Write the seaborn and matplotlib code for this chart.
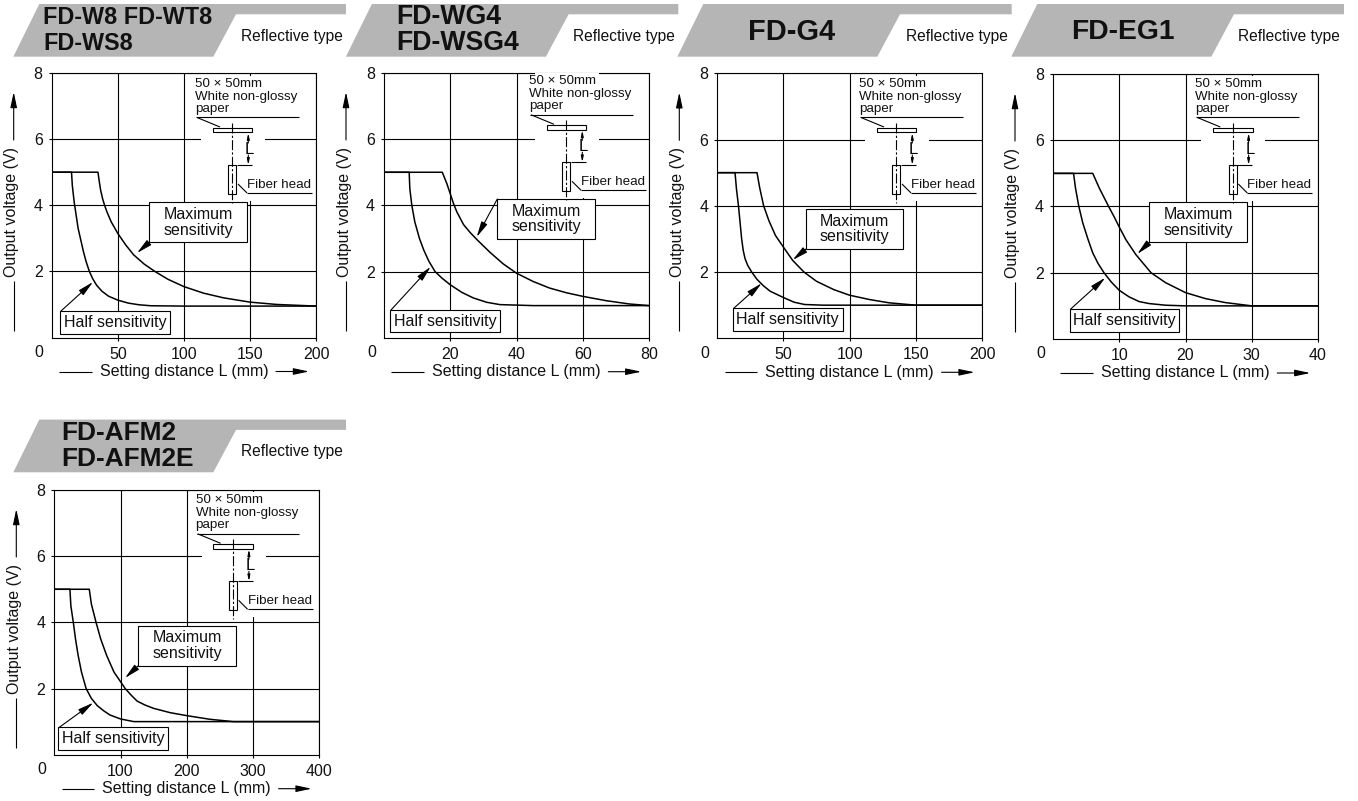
import pandas as pd
import seaborn as sns
import matplotlib
matplotlib.use('Agg')
import matplotlib.pyplot as plt
from matplotlib.patches import Polygon, Rectangle

sns.set_theme(style='white')
plt.rcParams['font.family'] = ['Liberation Sans', 'DejaVu Sans']

W, H = 1358, 801

w8_half_x = [0, 15, 15.6, 17, 18.5, 20, 22, 24, 26, 28.5, 31, 34, 38, 43, 50, 58, 66, 75, 100, 200]
w8_half_y = [5, 5, 4.6, 4.1, 3.7, 3.3, 2.95, 2.6, 2.3, 2.0, 1.78, 1.58, 1.4, 1.25, 1.13, 1.04, 0.99, 0.96, 0.95, 0.95]
w8_max_x = [0, 35, 36, 37, 38.5, 40, 42, 45, 50, 56, 62, 70, 78, 88, 100, 115, 130, 150, 170, 200]
w8_max_y = [5, 5, 4.72, 4.46, 4.2, 4.0, 3.78, 3.5, 3.15, 2.8, 2.5, 2.22, 2.0, 1.76, 1.54, 1.34, 1.2, 1.07, 1.0, 0.95]

wg4_half_x = [0, 7.6, 7.8, 8.4, 9.3, 10.7, 12, 13.5, 15.4, 17.5, 20, 23.5, 27, 31, 35, 45, 80]
wg4_half_y = [5, 5, 4.5, 4.0, 3.5, 3.0, 2.65, 2.32, 2.0, 1.8, 1.6, 1.37, 1.2, 1.07, 1.0, 0.97, 0.97]
wg4_max_x = [0, 17.6, 19, 20, 21, 22, 24, 26, 28, 32, 36, 40, 45, 50, 55, 60, 67, 74, 80]
wg4_max_y = [5, 5, 4.65, 4.35, 4.05, 3.8, 3.42, 3.18, 2.97, 2.58, 2.23, 1.95, 1.7, 1.5, 1.36, 1.25, 1.12, 1.02, 0.97]

g4_half_x = [0, 13.4, 14.5, 16, 17.2, 18.4, 19.6, 21, 23, 26, 30, 35, 40, 50, 58, 66, 80, 200]
g4_half_y = [5, 5, 4.5, 4.0, 3.5, 3.0, 2.65, 2.4, 2.2, 2.0, 1.78, 1.58, 1.42, 1.23, 1.09, 1.02, 1.0, 1.0]
g4_max_x = [0, 30, 32, 35, 39, 44, 50, 57, 65.5, 75, 88, 100, 115, 130, 150, 200]
g4_max_y = [5, 5, 4.55, 4.0, 3.55, 3.1, 2.75, 2.35, 2.0, 1.72, 1.47, 1.3, 1.17, 1.07, 1.0, 1.0]

eg1_half_x = [0, 3.1, 3.4, 3.9, 4.5, 5.3, 6, 6.8, 7.7, 8.8, 10, 11.5, 13, 14.5, 17, 20, 40]
eg1_half_y = [5, 5, 4.55, 4.0, 3.5, 3.0, 2.6, 2.28, 2.0, 1.72, 1.47, 1.27, 1.13, 1.07, 1.02, 1.0, 1.0]
eg1_max_x = [0, 6, 7, 8.4, 9.2, 10, 11, 12.5, 14.8, 17, 20, 23, 26, 30, 40]
eg1_max_y = [5, 5, 4.55, 4.0, 3.7, 3.38, 3.0, 2.55, 2.0, 1.7, 1.4, 1.22, 1.1, 1.0, 1.0]

afm_half_x = [0, 23.6, 25, 28.7, 32, 36, 41, 48, 56, 65, 75, 84, 100, 120, 400]
afm_half_y = [5, 5, 4.5, 4.0, 3.5, 3.0, 2.5, 2.0, 1.7, 1.48, 1.32, 1.2, 1.08, 1.0, 1.0]
afm_max_x = [0, 52.8, 56, 63, 70, 79, 90, 107, 116, 125, 137, 150, 175, 200, 235, 270, 400]
afm_max_y = [5, 5, 4.55, 4.0, 3.5, 3.0, 2.5, 2.0, 1.8, 1.62, 1.5, 1.4, 1.27, 1.18, 1.07, 1.0, 1.0]

titles = [['FD-W8 FD-WT8', 'FD-WS8'], ['FD-WG4', 'FD-WSG4'], ['FD-G4'], ['FD-EG1'], ['FD-AFM2', 'FD-AFM2E']]
title_size = [16.8, 19.2, 20.9, 20.3, 18.9]
x_ticks = [[50, 100, 150, 200], [20, 40, 60, 80], [50, 100, 150, 200], [10, 20, 30, 40], [100, 200, 300, 400]]
y_ticks = [2, 4, 6, 8]
half_curves = [(w8_half_x, w8_half_y), (wg4_half_x, wg4_half_y), (g4_half_x, g4_half_y), (eg1_half_x, eg1_half_y), (afm_half_x, afm_half_y)]
max_curves = [(w8_max_x, w8_max_y), (wg4_max_x, wg4_max_y), (g4_max_x, g4_max_y), (eg1_max_x, eg1_max_y), (afm_max_x, afm_max_y)]

# Положение в пикселях
frames = [(51.7, 316, 73, 337.5), (384, 649, 73, 337.7), (717.3, 982, 73.3, 338.3), (1053, 1318, 74, 339), (54.3, 319.3, 490, 754.7)]
header_dx = [0, 332.6, 664, 998, 0]
header_dy = [0, 0, 0, 0, 415.6]
title_pos = [(43, None), (396, None), (None, 791.7), (None, 1123), (61, None)]
type_x = [241, 573, 906, 1238, 241]
scheme_dx = [0, 334, 664, 1000.3, 0.6]
scheme_dy = [0, -2.7, 0, 0, 416.3]
max_boxes = [(149.3, 246.7, 202.3, 242.3), (497.3, 595, 199, 239.3), (806, 903.3, 209, 249), (1149.3, 1247.3, 202.3, 242.3), (138.3, 235.7, 625.7, 665.7)]
half_boxes = [(60, 170, 311, 334), (390, 500, 310, 332.3), (732.7, 842.7, 308.3, 331.3), (1069.7, 1179, 309, 331.7), (58.3, 167.7, 727.3, 750.3)]
max_tips = [(137, 253), (476.7, 237), (792.7, 260), (1137.3, 254), (125, 678)]
half_tips = [(93, 282), (430.7, 266.7), (761.7, 283.3), (1105.3, 277.7), (93.3, 702.7)]

FS = 11.5

fig = plt.figure(figsize=(W / 100, H / 100), dpi=100)
over = fig.add_axes([0, 0, 1, 1], zorder=5)
over.set_xlim(0, W)
over.set_ylim(H, 0)
over.axis('off')
over.patch.set_alpha(0)


def arrow(x0, y0, x1, y1, scale=11):
    over.annotate('', xy=(x1, y1), xytext=(x0, y0),
                  arrowprops=dict(arrowstyle='-|>,head_length=0.85,head_width=0.18', mutation_scale=scale,
                                  color='black', lw=0.8, shrinkA=0, shrinkB=0))


def seg(xs, ys, **kw):
    kw.setdefault('lw', 0.8)
    kw.setdefault('color', 'black')
    over.plot(xs, ys, solid_capstyle='butt', **kw)


def draw_header(i):
    dx, dy = header_dx[i], header_dy[i]
    right = [346, 678.3, 1011.7, 1344, 346][i]
    pts = [(39.3 + dx, 4 + dy), (right, 4 + dy), (right, 14.3 + dy), (236 + dx, 14.3 + dy),
           (213.3 + dx, 56.7 + dy), (13.3 + dx, 56.7 + dy)]
    over.add_patch(Polygon(pts, closed=True, fc='#b5b5b5', ec='none'))
    left, center = title_pos[i]
    size = title_size[i]
    if len(titles[i]) == 2:
        for line, y in zip(titles[i], (17, 43)):
            over.text(left, y + dy, line, fontsize=size, fontweight='bold', va='center', ha='left', color='#111111')
    else:
        over.text(center, 32, titles[i][0], fontsize=size, fontweight='bold', va='center', ha='center', color='#111111')
    over.text(type_x[i], 36 + dy, 'Reflective type', fontsize=11.2, va='center', ha='left', color='#111111')


def draw_scheme(i):
    dx, dy = scheme_dx[i], scheme_dy[i]
    # белая подложка прерывает сетку
    over.add_patch(Rectangle((201 + dx, 75.5 + dy), 64, 125.5, fc='white', ec='none'))
    for line, y in zip(['50 × 50mm', 'White non-glossy', 'paper'], (84, 96.7, 109)):
        over.text(195 + dx, y + dy, line, fontsize=9.6, va='center', ha='left', color='#111111')
    seg([196 + dx, 298.7 + dx], [117.3 + dy, 117.3 + dy])
    seg([197 + dx, 220 + dx], [117.5 + dy, 127 + dy])
    over.add_patch(Rectangle((212.7 + dx, 127.7 + dy), 39.6, 4.6, fc='white', ec='black', lw=0.8))
    seg([232.3 + dx, 232.3 + dx], [122.7 + dy, 203 + dy], ls=(0, (9, 2, 2, 2)))
    over.add_patch(Rectangle((228.3 + dx, 165 + dy), 8, 29, fc='none', ec='black', lw=0.8))
    arrow(248.3 + dx, 143 + dy, 248.3 + dx, 133 + dy, 4)
    arrow(248.3 + dx, 155 + dy, 248.3 + dx, 165 + dy, 4)
    seg([237 + dx, 252 + dx], [165 + dy, 165 + dy])
    over.text(249.5 + dx, 149.3 + dy, 'L', fontsize=12, va='center', ha='center', color='black')
    over.text(247 + dx, 185 + dy, 'Fiber head', fontsize=9.6, va='center', ha='left', color='#111111')
    seg([247 + dx, 312 + dx], [193 + dy, 193 + dy])
    seg([238 + dx, 247 + dx], [184 + dy, 193 + dy])


def draw_callouts(i):
    x0, x1, y0, y1 = max_boxes[i]
    over.add_patch(Rectangle((x0, y0), x1 - x0, y1 - y0, fc='white', ec='black', lw=0.8))
    over.text((x0 + x1) / 2, (y0 + y1) / 2 - 7.7, 'Maximum', fontsize=FS, va='center', ha='center', color='#111111')
    over.text((x0 + x1) / 2, (y0 + y1) / 2 + 7.7, 'sensitivity', fontsize=FS, va='center', ha='center', color='#111111')
    tip = max_tips[i]
    start = (x0, y0) if i == 1 else (x0, y1)
    arrow(start[0], start[1], tip[0], tip[1])
    x0, x1, y0, y1 = half_boxes[i]
    over.add_patch(Rectangle((x0, y0), x1 - x0, y1 - y0, fc='white', ec='black', lw=0.8))
    over.text((x0 + x1) / 2, (y0 + y1) / 2, 'Half sensitivity', fontsize=FS, va='center', ha='center', color='#111111')
    arrow(x0 + 1, y0, half_tips[i][0], half_tips[i][1])


for i in range(5):
    left, right, top, bottom = frames[i]
    ax = fig.add_axes([left / W, 1 - bottom / H, (right - left) / W, (bottom - top) / H])

    df = pd.concat([
        pd.DataFrame({'distance': half_curves[i][0], 'voltage': half_curves[i][1], 'curve': 'half'}),
        pd.DataFrame({'distance': max_curves[i][0], 'voltage': max_curves[i][1], 'curve': 'max'}),
    ])
    sns.lineplot(data=df, x='distance', y='voltage', hue='curve', palette=['black', 'black'],
                 estimator=None, sort=False, legend=False, lw=1.1, ax=ax, zorder=3)

    ax.set_xlim(0, x_ticks[i][-1])
    ax.set_ylim(0, 8)
    ax.set_xticks(x_ticks[i])
    ax.set_yticks(y_ticks)
    ax.grid(True, color='black', lw=0.8)
    ax.tick_params(axis='both', length=2.5, width=0.8, color='black', pad=4, labelsize=FS, labelcolor='#111111',
                   bottom=True, left=True)
    ax.set_xlabel('')
    ax.set_ylabel('')
    for s in ax.spines.values():
        s.set_color('black')
        s.set_linewidth(0.8)

    draw_header(i)
    draw_scheme(i)
    draw_callouts(i)

    # подписи осей со стрелками
    over.text(left - 12.5, bottom + 14.7, '0', fontsize=FS, va='center', ha='center', color='#111111')
    over.text(left + 132.3, bottom + 34, 'Setting distance L (mm)', fontsize=FS, va='center', ha='center', color='#111111')
    seg([left + 7.3, left + 40], [bottom + 34, bottom + 34])
    arrow(left + 224.3, bottom + 34, left + 257.3, bottom + 34)
    over.text(left - 40, top + 139, 'Output voltage (V)', fontsize=FS, rotation=90, va='center', ha='center', color='#111111')
    seg([left - 38, left - 38], [bottom - 7, bottom - 57])
    arrow(left - 38, top + 67, left - 38, top + 19)

fig.savefig('out.png', dpi=100)
